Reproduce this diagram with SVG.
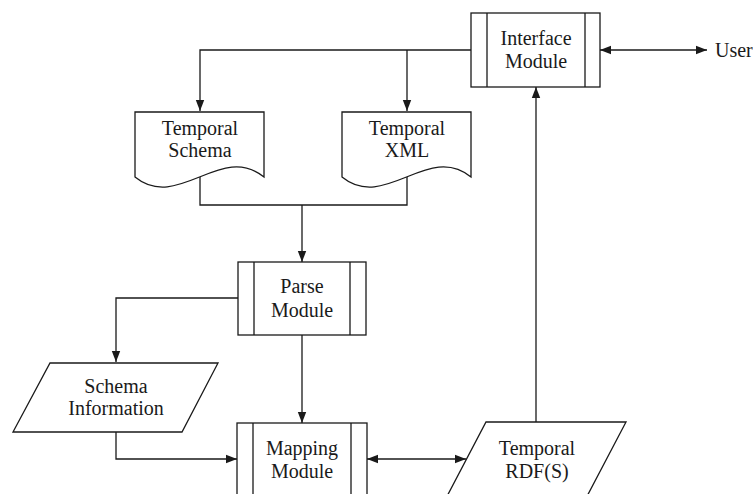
<svg xmlns="http://www.w3.org/2000/svg" width="753" height="494" viewBox="0 0 753 494">
<style>
.s{fill:#fff;stroke:#1a1a1a;stroke-width:1.3}
.c{fill:none;stroke:#1a1a1a;stroke-width:1.3}
.t{font-family:"Liberation Serif","Times New Roman",serif;font-size:20px;fill:#1a1a1a;text-anchor:middle}
</style>
<defs>
<marker id="a" markerUnits="userSpaceOnUse" markerWidth="12" markerHeight="10" refX="11" refY="5" orient="auto-start-reverse">
<path d="M0,0.8 L11,5 L0,9.2 Z" fill="#1a1a1a"/>
</marker>
</defs>
<rect width="753" height="494" fill="#fff"/>
<g id="connectors">
<path class="c" d="M471,50 H200 V111" marker-end="url(#a)"/>
<path class="c" d="M407,50 V111" marker-end="url(#a)"/>
<path class="c" d="M200,177 V205 H407 V177"/>
<path class="c" d="M302,205 V262" marker-end="url(#a)"/>
<path class="c" d="M238,298 H116 V362" marker-end="url(#a)"/>
<path class="c" d="M302,335 V423" marker-end="url(#a)"/>
<path class="c" d="M116,432 V459 H237" marker-end="url(#a)"/>
<path class="c" d="M367,459 H466" marker-start="url(#a)" marker-end="url(#a)"/>
<path class="c" d="M536,422 V87" marker-end="url(#a)"/>
<path class="c" d="M600,50 H707" marker-start="url(#a)" marker-end="url(#a)"/>
</g>
<g id="interface">
<rect class="s" x="471" y="13" width="129" height="74"/>
<path class="c" d="M487,13 V87 M585,13 V87"/>
<text class="t" x="536" y="45">Interface</text>
<text class="t" x="536" y="68">Module</text>
</g>
<g id="user">
<text class="t" x="715" y="57" style="text-anchor:start">User</text>
</g>
<g id="schema">
<path class="s" d="M135,112 H264 V177 C221,142 178,212 135,177 Z"/>
<text class="t" x="200" y="135">Temporal</text>
<text class="t" x="200" y="157">Schema</text>
</g>
<g id="xml">
<path class="s" d="M342,112 H471 V177 C428,142 385,212 342,177 Z"/>
<text class="t" x="407" y="135">Temporal</text>
<text class="t" x="407" y="157">XML</text>
</g>
<g id="parse">
<rect class="s" x="238" y="262" width="128" height="73"/>
<path class="c" d="M254,262 V335 M350,262 V335"/>
<text class="t" x="302" y="293">Parse</text>
<text class="t" x="302" y="317">Module</text>
</g>
<g id="schemainfo">
<path class="s" d="M50,363 H218 L182,432 H13 Z"/>
<text class="t" x="116" y="393">Schema</text>
<text class="t" x="116" y="415">Information</text>
</g>
<g id="mapping">
<rect class="s" x="237" y="423" width="130" height="90"/>
<path class="c" d="M253,423 V513 M351,423 V513"/>
<text class="t" x="302" y="455">Mapping</text>
<text class="t" x="302" y="478">Module</text>
</g>
<g id="rdf">
<path class="s" d="M486,422 H626 L584,502 H444 Z"/>
<text class="t" x="537" y="455">Temporal</text>
<text class="t" x="537" y="478">RDF(S)</text>
</g>
</svg>
